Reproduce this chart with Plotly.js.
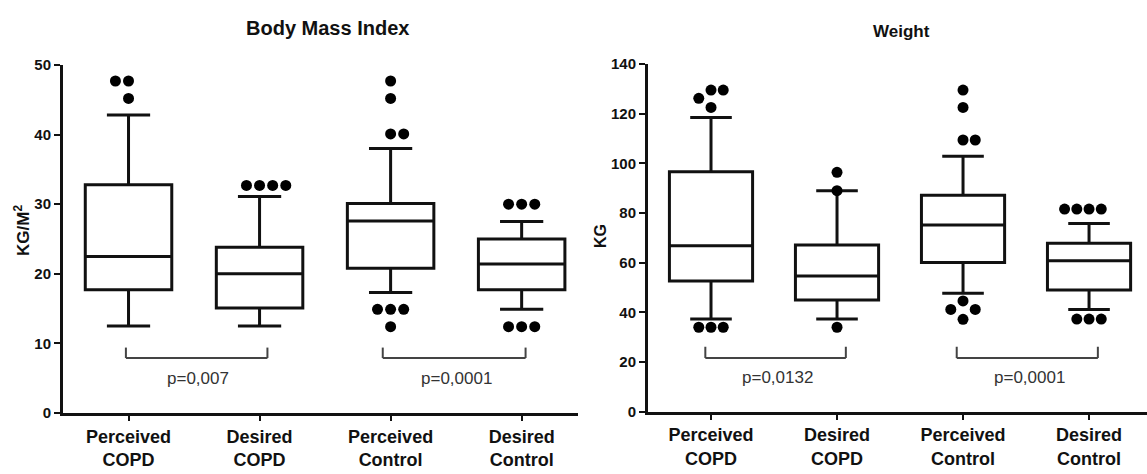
<!DOCTYPE html>
<html>
<head>
<meta charset="utf-8">
<script src="https://cdn.plot.ly/plotly-3.0.1.min.js"></script>
<style>html,body{margin:0;padding:0;background:#fff;}</style>
</head>
<body>
<div id="chart" style="width:1147px;height:474px;"></div>
<script>
// ---- Data ----
var categories = ["Perceived<br>COPD", "Desired<br>COPD", "Perceived<br>Control", "Desired<br>Control"];

// Body Mass Index (kg/m2)
var bmiLowerFence = [12.5, 12.5, 17.3, 14.9];
var bmiQ1         = [17.7, 15.1, 20.8, 17.7];
var bmiMedian     = [22.5, 20.0, 27.6, 21.4];
var bmiQ3         = [32.8, 23.8, 30.1, 25.0];
var bmiUpperFence = [42.8, 31.1, 38.0, 27.5];
// outliers: category index, value, slot in the dot row
var bmiOutCat  = [0, 0, 0,  1, 1, 1, 1,  2, 2, 2, 2, 2, 2, 2, 2,  3, 3, 3, 3, 3, 3];
var bmiOutVal  = [47.7, 47.7, 45.2,  32.7, 32.7, 32.7, 32.7,  47.7, 45.2, 40.1, 40.1, 14.9, 14.9, 14.9, 12.4,  30.0, 30.0, 30.0, 12.4, 12.4, 12.4];
var bmiOutSlot = [-1, 0, 0,  -1, 0, 1, 2,  0, 0, 0, 1, -1, 0, 1, 0,  -1, 0, 1, -1, 0, 1];
var bmiP = ["p=0,007", "p=0,0001"];

// Weight (kg)
var wLowerFence = [37.3, 37.3, 47.7, 41.2];
var wQ1         = [52.6, 45.0, 60.1, 49.0];
var wMedian     = [66.8, 54.6, 75.2, 60.8];
var wQ3         = [96.6, 67.1, 87.2, 67.8];
var wUpperFence = [118.5, 89.0, 102.9, 75.8];
var wOutCat  = [0, 0, 0, 0, 0, 0, 0,  1, 1, 1,  2, 2, 2, 2, 2, 2, 2, 2,  3, 3, 3, 3, 3, 3, 3];
var wOutVal  = [129.5, 129.5, 126.2, 122.5, 34.0, 34.0, 34.0,  96.4, 89.0, 34.0,  129.5, 122.5, 109.4, 109.4, 44.6, 41.2, 41.2, 37.2,  81.6, 81.6, 81.6, 81.6, 37.3, 37.3, 37.3];
var wOutSlot = [0, 1, -1, 0, -1, 0, 1,  0, 0, 0,  0, 0, 0, 1, 0, -1, 1, 0,  -2, -1, 0, 1, -1, 0, 1];
var wP = ["p=0,0132", "p=0,0001"];

// ---- Styles ----
var pos = [0, 1, 2, 3];
var FONT = "Arial, 'Liberation Sans', sans-serif";
var dotStep1 = 0.1, dotStep2 = 0.097;

function boxTrace(xa, ya, lf, q1, med, q3, uf) {
  return {
    type: "box", xaxis: xa, yaxis: ya, x: pos,
    lowerfence: lf, q1: q1, median: med, q3: q3, upperfence: uf,
    boxpoints: false, width: 0.66, whiskerwidth: 0.5,
    fillcolor: "#ffffff", line: {color: "#111", width: 3},
    hoverinfo: "skip", showlegend: false
  };
}
function dotTrace(xa, ya, cats, vals, slots, step) {
  return {
    type: "scatter", mode: "markers", xaxis: xa, yaxis: ya,
    x: cats.map(function (c, i) { return c + slots[i] * step; }),
    y: vals,
    marker: {color: "#000", size: 11},
    hoverinfo: "skip", showlegend: false
  };
}

var data = [
  boxTrace("x", "y", bmiLowerFence, bmiQ1, bmiMedian, bmiQ3, bmiUpperFence),
  dotTrace("x", "y", bmiOutCat, bmiOutVal, bmiOutSlot, dotStep1),
  boxTrace("x2", "y2", wLowerFence, wQ1, wMedian, wQ3, wUpperFence),
  dotTrace("x2", "y2", wOutCat, wOutVal, wOutSlot, dotStep2)
];

function xAxis(dom, rng, anchor) {
  return {
    domain: dom, range: rng, anchor: anchor,
    tickvals: pos, ticktext: categories,
    ticks: "outside", ticklen: 5, tickwidth: 2, tickcolor: "#111",
    showline: true, linewidth: 3, linecolor: "#111",
    showgrid: false, zeroline: false, fixedrange: true,
    tickfont: {family: FONT, size: 18, color: "#111", weight: "bold"}
  };
}
function yAxis(dom, rng, dt, anchor) {
  return {
    domain: dom, range: rng, dtick: dt, anchor: anchor,
    ticks: "outside", ticklen: 6, tickwidth: 2, tickcolor: "#111",
    showline: true, linewidth: 3, linecolor: "#111",
    showgrid: false, zeroline: false, fixedrange: true,
    tickfont: {family: FONT, size: 15, color: "#111", weight: "bold"}
  };
}

var bracketColor = "#444";
function bracket(xr, yr, x0, x1, yTop, yBot) {
  return [
    {type: "line", xref: xr, yref: yr, x0: x0, x1: x0, y0: yTop, y1: yBot, line: {color: bracketColor, width: 2}},
    {type: "line", xref: xr, yref: yr, x0: x0, x1: x1, y0: yBot, y1: yBot, line: {color: bracketColor, width: 2}},
    {type: "line", xref: xr, yref: yr, x0: x1, x1: x1, y0: yBot, y1: yTop, line: {color: bracketColor, width: 2}}
  ];
}

var shapes = [].concat(
  bracket("x", "y", -0.02, 1.06, 9.4, 7.9),
  bracket("x", "y", 1.94, 3.03, 9.4, 7.9),
  bracket("x2", "y2", -0.045, 1.07, 26.2, 21.6),
  bracket("x2", "y2", 1.95, 3.07, 26.2, 21.6)
);

var pFont = {family: FONT, size: 17, color: "#333"};
var annotations = [
  {xref: "x", yref: "y", x: 0.53, y: 5.0, text: bmiP[0], showarrow: false, font: pFont},
  {xref: "x", yref: "y", x: 2.5, y: 5.0, text: bmiP[1], showarrow: false, font: pFont},
  {xref: "x2", yref: "y2", x: 0.53, y: 13.6, text: wP[0], showarrow: false, font: pFont},
  {xref: "x2", yref: "y2", x: 2.53, y: 13.6, text: wP[1], showarrow: false, font: pFont},
  {xref: "paper", yref: "paper", x: 327 / 1147, y: 1 - 28 / 474, xanchor: "center", yanchor: "middle",
   text: "Body Mass Index", showarrow: false,
   font: {family: FONT, size: 20, color: "#111", weight: "bold"}},
  {xref: "paper", yref: "paper", x: 901 / 1147, y: 1 - 32 / 474, xanchor: "center", yanchor: "middle",
   text: "Weight", showarrow: false,
   font: {family: FONT, size: 17, color: "#111", weight: "bold"}},
  {xref: "paper", yref: "paper", x: 22 / 1147, y: 1 - 231 / 474, xanchor: "center", yanchor: "middle",
   text: "KG/M<sup>2</sup>", textangle: -90, showarrow: false,
   font: {family: FONT, size: 17, color: "#111", weight: "bold"}},
  {xref: "paper", yref: "paper", x: 600 / 1147, y: 1 - 236 / 474, xanchor: "center", yanchor: "middle",
   text: "KG", textangle: -90, showarrow: false,
   font: {family: FONT, size: 16, color: "#111", weight: "bold"}}
];

var layout = {
  width: 1147, height: 474,
  margin: {l: 0, r: 0, t: 0, b: 0},
  paper_bgcolor: "#fff", plot_bgcolor: "#fff",
  showlegend: false,
  xaxis: xAxis([63 / 1147, 578 / 1147], [-0.5, 3.43], "y"),
  yaxis: yAxis([61 / 474, 409 / 474], [0, 50], 10, "x"),
  xaxis2: xAxis([648 / 1147, 1], [-0.5, 3.46], "y2"),
  yaxis2: yAxis([62.3 / 474, 410 / 474], [0, 140], 20, "x2"),
  shapes: shapes,
  annotations: annotations
};

Plotly.newPlot("chart", data, layout, {displayModeBar: false, staticPlot: true});
</script>
</body>
</html>
